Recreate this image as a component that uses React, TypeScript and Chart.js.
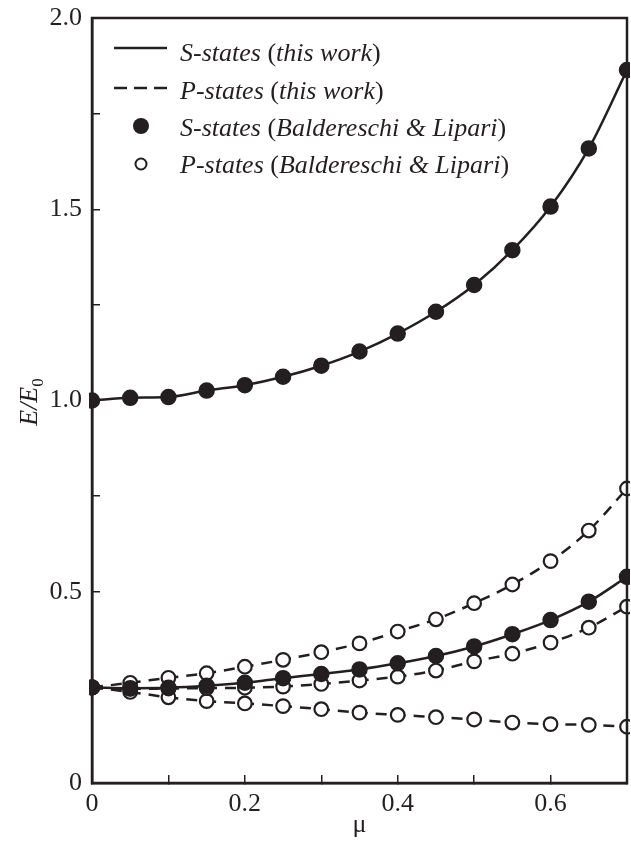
import React, { useEffect, useRef } from 'react';
import { Chart, registerables } from 'chart.js';

Chart.register(...registerables);

// ---- data ----
const MU = [0, 0.05, 0.1, 0.15, 0.2, 0.25, 0.3, 0.35, 0.4, 0.45, 0.5, 0.55, 0.6, 0.65, 0.7];
const S_GROUND = [1.0, 1.007, 1.009, 1.026, 1.04, 1.062, 1.091, 1.128, 1.175, 1.232, 1.302, 1.393, 1.507, 1.659, 1.864];
const S_EXCITED = [0.25, 0.248, 0.249, 0.254, 0.262, 0.274, 0.285, 0.297, 0.313, 0.332, 0.357, 0.389, 0.426, 0.474, 0.539];
const P_UPPER = [0.25, 0.262, 0.275, 0.287, 0.304, 0.322, 0.342, 0.365, 0.396, 0.428, 0.47, 0.519, 0.58, 0.66, 0.77];
const P_MIDDLE = [0.25, 0.246, 0.247, 0.248, 0.249, 0.252, 0.259, 0.268, 0.278, 0.294, 0.318, 0.338, 0.367, 0.406, 0.461];
const P_LOWER = [0.25, 0.238, 0.224, 0.214, 0.208, 0.201, 0.193, 0.184, 0.178, 0.172, 0.166, 0.158, 0.154, 0.152, 0.147];

const X_TICK_LABELS = ['0', '0.2', '0.4', '0.6'];
const Y_TICK_LABELS = ['0', '0.5', '1.0', '1.5', '2.0'];
const X_TITLE = 'μ';
const Y_TITLE_MAIN = 'E/E';
const Y_TITLE_SUB = '0';

// legend: [italic state name, italic source]
const LEGEND_STATES = ['S-states', 'P-states', 'S-states', 'P-states'];
const LEGEND_SOURCES = ['this work', 'this work', 'Baldereschi & Lipari', 'Baldereschi & Lipari'];

const INK = '#231f20';
const SERIF = '"Liberation Serif", "Times New Roman", serif';

const pts = (ys: number[]) => MU.map((x, i) => ({ x, y: ys[i] }));

const zeroPad = (s: any) => {
  s.paddingTop = 0;
  s.paddingBottom = 0;
  s.paddingLeft = 0;
  s.paddingRight = 0;
};

const framePlugin = {
  id: 'frameAndLegend',
  afterDraw(chart: any) {
    const { ctx, chartArea } = chart;
    const { left, right, top, bottom } = chartArea;
    ctx.save();
    // frame
    ctx.strokeStyle = INK;
    ctx.lineWidth = 2.5;
    ctx.setLineDash([]);
    ctx.strokeRect(left, top, right - left, bottom - top);

    // y-axis title, rotated, with subscript
    ctx.save();
    ctx.translate(37, 402);
    ctx.rotate(-Math.PI / 2);
    ctx.fillStyle = INK;
    ctx.textBaseline = 'alphabetic';
    ctx.font = `italic 26px ${SERIF}`;
    const wMain = ctx.measureText(Y_TITLE_MAIN).width;
    ctx.font = `17px ${SERIF}`;
    const wSub = ctx.measureText(Y_TITLE_SUB).width;
    const start = -(wMain + wSub) / 2;
    ctx.font = `italic 26px ${SERIF}`;
    ctx.textAlign = 'left';
    ctx.fillText(Y_TITLE_MAIN, start, 0);
    ctx.font = `17px ${SERIF}`;
    ctx.fillText(Y_TITLE_SUB, start + wMain, 6);
    ctx.restore();

    // legend
    const centers = [48, 88, 126, 164];
    const baselines = [61, 99, 136, 173];
    ctx.strokeStyle = INK;
    ctx.fillStyle = INK;
    // solid
    ctx.lineWidth = 2.5;
    ctx.setLineDash([]);
    ctx.beginPath();
    ctx.moveTo(114, centers[0]);
    ctx.lineTo(167, centers[0]);
    ctx.stroke();
    // dashed
    ctx.setLineDash([13, 7]);
    ctx.beginPath();
    ctx.moveTo(114, centers[1]);
    ctx.lineTo(167, centers[1]);
    ctx.stroke();
    ctx.setLineDash([]);
    // filled circle
    ctx.beginPath();
    ctx.arc(141, centers[2], 8, 0, Math.PI * 2);
    ctx.fill();
    // open circle
    ctx.lineWidth = 2;
    ctx.beginPath();
    ctx.arc(141, centers[3], 5.5, 0, Math.PI * 2);
    ctx.fillStyle = '#fff';
    ctx.fill();
    ctx.stroke();
    ctx.fillStyle = INK;

    ctx.textAlign = 'left';
    ctx.textBaseline = 'alphabetic';
    for (let i = 0; i < 4; i++) {
      let x = 180;
      const segs: [string, boolean][] = [
        [LEGEND_STATES[i], true],
        [' (', false],
        [LEGEND_SOURCES[i], true],
        [')', false],
      ];
      for (const [t, it] of segs) {
        ctx.font = `${it ? 'italic ' : ''}26px ${SERIF}`;
        ctx.fillText(t, x, baselines[i]);
        x += ctx.measureText(t).width;
      }
    }
    ctx.restore();
  },
};

export default function App() {
  const ref = useRef<HTMLCanvasElement>(null);
  useEffect(() => {
    const markerFilled = (ys: number[]) => ({
      data: pts(ys),
      showLine: false,
      pointRadius: 7.5,
      pointBorderWidth: 1.5,
      pointBackgroundColor: INK,
      pointBorderColor: INK,
      order: 0,
      clip: 3,
    });
    const markerOpen = (ys: number[]) => ({
      data: pts(ys),
      showLine: false,
      pointRadius: 6.8,
      pointBorderWidth: 2.2,
      pointBackgroundColor: '#ffffff',
      pointBorderColor: INK,
      order: 1,
      clip: 3,
    });
    const curve = (ys: number[], dashed: boolean) => ({
      data: pts(ys),
      showLine: true,
      pointRadius: 0,
      borderColor: INK,
      borderWidth: 2.5,
      borderDash: dashed ? [11, 8] : [],
      cubicInterpolationMode: 'monotone' as const,
      fill: false,
      order: 2,
      clip: 0,
    });

    const chart = new Chart(ref.current!, {
      type: 'line',
      data: {
        datasets: [
          markerFilled(S_GROUND),
          markerFilled(S_EXCITED),
          markerOpen(P_UPPER),
          markerOpen(P_MIDDLE),
          markerOpen(P_LOWER),
          curve(S_GROUND, false),
          curve(S_EXCITED, false),
          curve(P_UPPER, true),
          curve(P_MIDDLE, true),
          curve(P_LOWER, true),
        ] as any,
      },
      options: {
        responsive: false,
        animation: false,
        devicePixelRatio: 1,
        layout: { autoPadding: false, padding: { left: 0, right: 4, top: 18, bottom: 0 } },
        plugins: {
          legend: { display: false },
          tooltip: { enabled: false },
        },
        scales: {
          x: {
            type: 'linear',
            min: 0,
            max: 0.7,
            afterFit: (s: any) => {
              s.height = 58;
              zeroPad(s);
            },
            ticks: {
              stepSize: 0.1,
              autoSkip: false,
              maxRotation: 0,
              padding: 14,
              color: INK,
              font: { family: SERIF, size: 26 },
              callback: (v: any) => {
                const k = Math.round(Number(v) * 10);
                return k % 2 === 0 && k <= 6 ? X_TICK_LABELS[k / 2] : '';
              },
            },
            grid: {
              drawOnChartArea: false,
              drawTicks: true,
              tickLength: -8,
              color: INK,
              lineWidth: 1.5,
            },
            border: { display: true, color: INK, width: 2.5 },
            title: {
              display: true,
              text: X_TITLE,
              color: INK,
              font: { family: SERIF, size: 26 },
              padding: 0,
            },
          },
          y: {
            type: 'linear',
            min: 0,
            max: 2,
            afterFit: (s: any) => {
              s.width = 92;
              zeroPad(s);
            },
            ticks: {
              stepSize: 0.25,
              autoSkip: false,
              padding: 18,
              color: INK,
              font: { family: SERIF, size: 26 },
              callback: (v: any) => {
                const k = Math.round(Number(v) * 4);
                return k % 2 === 0 ? Y_TICK_LABELS[k / 2] : '';
              },
            },
            grid: {
              drawOnChartArea: false,
              drawTicks: true,
              tickLength: -8,
              color: INK,
              lineWidth: 1.5,
            },
            border: { display: true, color: INK, width: 2.5 },
          },
        },
      } as any,
      plugins: [framePlugin],
    });
    return () => chart.destroy();
  }, []);

  return (
    <div style={{ position: 'absolute', left: 0, top: 0, width: 631, height: 841, background: '#ffffff' }}>
      <canvas ref={ref} width={631} height={841} style={{ display: 'block', width: 631, height: 841 }} />
    </div>
  );
}
